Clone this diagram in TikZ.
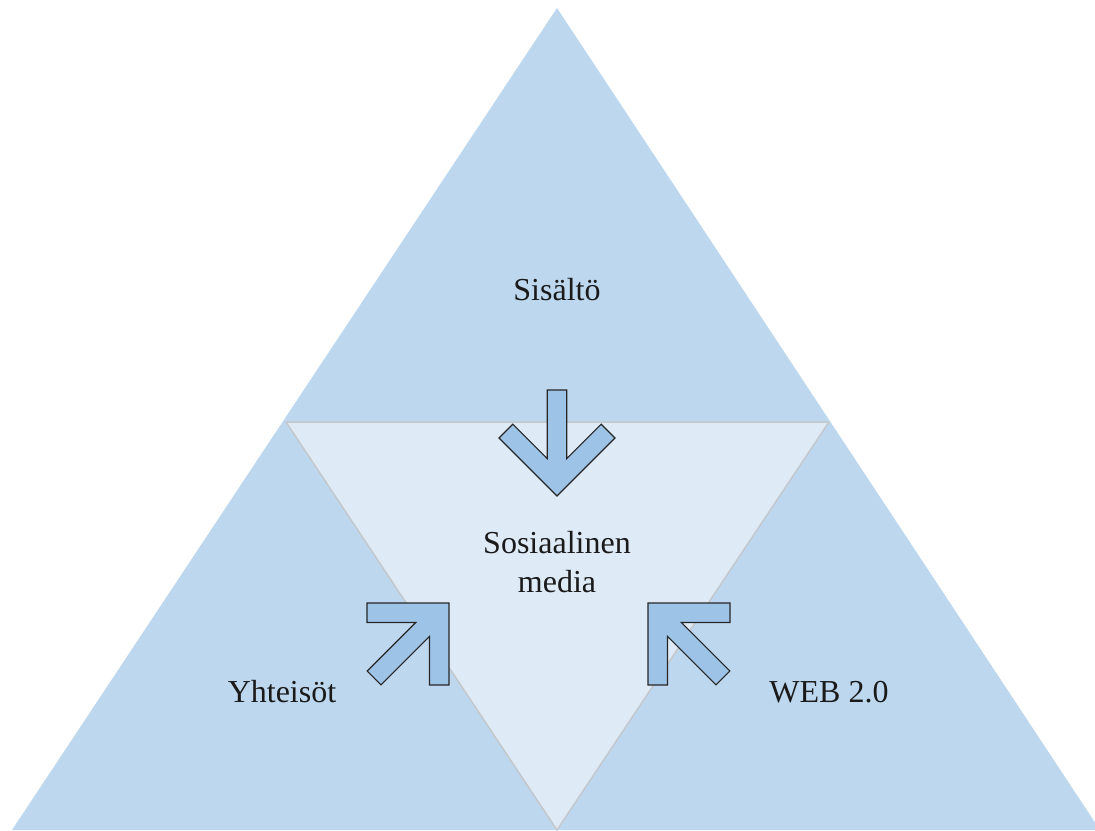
\documentclass[tikz,border=0pt]{standalone}
\usepackage{fontspec}
\setmainfont{Liberation Serif}
\definecolor{outerblue}{HTML}{BDD7EE}
\definecolor{innerblue}{HTML}{DEEBF7}
\definecolor{arrowblue}{HTML}{9DC3E6}
\definecolor{sepgray}{HTML}{C4C8CC}
\definecolor{txt}{HTML}{1A1A1A}
\tikzset{
  outerpart/.style={fill=outerblue, draw=none},
  innerpart/.style={fill=innerblue, draw=sepgray, line width=1.5pt, line join=miter},
  blockarrow/.style={fill=arrowblue, draw=black!85, line width=1.1pt, line join=miter},
  label/.style={text=txt, font=\fontsize{32}{39}\selectfont, anchor=base, align=center, inner sep=0pt}
}
\begin{document}
\begin{tikzpicture}[x=1pt,y=-1pt]
\useasboundingbox (0,0) rectangle (1095,830);
% big triangle
\coordinate (A) at (557,8);
\coordinate (BL) at (12,830);
\coordinate (BR) at (1100,830);
\coordinate (ML) at (286,422);
\coordinate (MR) at (829,422);
\coordinate (MB) at (557,830);
\fill[outerpart] (A) -- (BR) -- (BL) -- cycle;
\path[innerpart] (ML) -- (MR) -- (MB) -- cycle;
% block arrows (local shape: tip at origin, pointing down)
\def\arrowshape{(-9.75,-106) -- (9.75,-106) -- (9.75,-37.3) -- (44.2,-71.8) -- (58,-58) -- (0,0) -- (-58,-58) -- (-44.2,-71.8) -- (-9.75,-37.3) -- cycle}
\draw[blockarrow, shift={(557,496)}] \arrowshape;
\draw[blockarrow, shift={(449,603)}, rotate=135] \arrowshape;
\draw[blockarrow, shift={(648,603)}, rotate=225] \arrowshape;
% labels
\node[label] (sisalto) at (557,300) {Sisältö};
\node[label] (some) at (557,592) {Sosiaalinen\\media};
\node[label] (yht) at (282,702) {Yhteisöt};
\node[label] (web) at (829,702) {WEB 2.0};
\end{tikzpicture}
\end{document}
